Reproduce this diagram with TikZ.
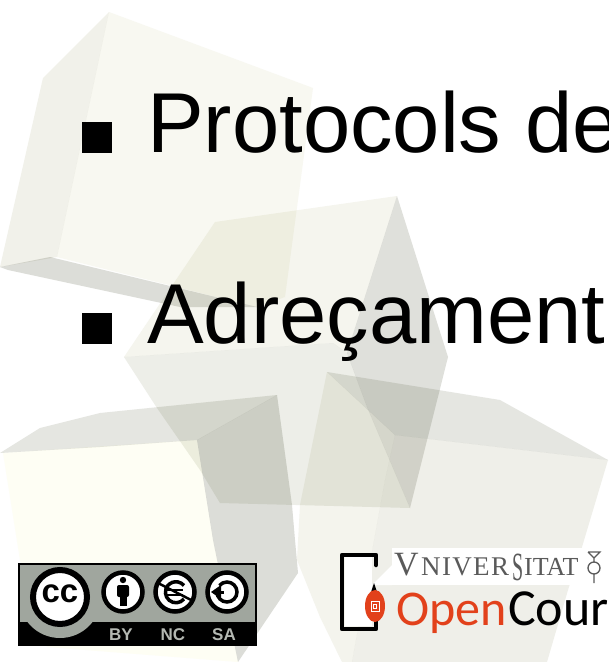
\documentclass[tikz,border=0pt]{standalone}
\usepackage{fontspec}
\setmainfont{Liberation Sans}
\newfontfamily\carl{Carlito}
\newfontfamily\tms{Liberation Serif}
\newfontfamily\tmsw[LetterSpace=5]{Liberation Serif}
\definecolor{cfacea}{HTML}{F8F8F1}
\definecolor{cfaceb}{HTML}{F1F1EA}
\definecolor{cshade}{HTML}{DCDDD8}
\definecolor{cfacec}{HTML}{F5F5EE}
\definecolor{cfaced}{HTML}{EDEEE8}
\definecolor{cfacee}{HTML}{DFE0DB}
\definecolor{cband}{HTML}{E5E6E1}
\definecolor{ccream}{HTML}{FEFEF4}
\definecolor{cfacef}{HTML}{F4F4ED}
\definecolor{cfaceg}{HTML}{EFEFE9}
\definecolor{ccgray}{HTML}{A0A69E}
\definecolor{cctext}{HTML}{B4B8B2}
\definecolor{ocred}{HTML}{E2411B}
\definecolor{unigray}{HTML}{5A5A5A}
\tikzset{
  facet/.style={fill=#1,draw=none,blend mode=multiply},
  headline/.style={anchor=base west,inner sep=0pt,font=\fontsize{85}{85}\selectfont,text=black},
  bulletmark/.style={fill=black,draw=none},
  ringicon/.style={draw=black,line width=4.5pt,fill=white},
  cclabel/.style={anchor=base,inner sep=0pt,font=\fontsize{17}{17}\selectfont\bfseries,text=cctext},
  octext/.style={anchor=base west,inner sep=0pt},
  unibig/.style={anchor=base west,inner sep=0pt,font=\tms\fontsize{34}{34}\selectfont,text=unigray},
  unismall/.style={anchor=base west,inner sep=0pt,font=\tmsw\fontsize{27}{27}\selectfont,text=unigray},
  unitall/.style={anchor=base west,inner sep=0pt,font=\tms\fontsize{40}{40}\selectfont,text=unigray,xscale=.5},
}
\begin{document}
\begin{tikzpicture}[x=1pt,y=-1pt]
\useasboundingbox (0,0) rectangle (609,662);
\clip (0,0) rectangle (609,662);
\fill[white] (0,0) rectangle (609,662);
% cube 1
\fill[facet=cfacea] (109,12)--(313,88)--(285,297)--(257,307)--(57,257)--cycle;
\fill[facet=cfaceb] (109,12)--(43,78)--(0,267)--(57,257)--cycle;
\fill[facet=cshade] (0,267)--(50,257)--(257,307)--(180,307)--(8,270)--cycle;
% cube 3
\fill[facet=ccream] (3,453)--(197,440)--(213,540)--(238,662)--(47,647)--(20,560)--cycle;
\fill[facet=cband] (0,453)--(40,428)--(100,413)--(277,395)--(197,440)--(100,447)--cycle;
\fill[facet=cshade] (277,395)--(197,440)--(213,540)--(238,662)--(298,573)--(295,540)--(292,505)--cycle;
% cube 4
\fill[facet=cfacef] (327,372)--(300,505)--(297,560)--(320,617)--(342,662)--(352,662)--(385,480)--(395,435)--cycle;
\fill[facet=cband] (327,372)--(500,400)--(608,460)--(395,435)--cycle;
\fill[facet=cfaceg] (395,435)--(608,460)--(582,547)--(568,590)--(547,662)--(352,662)--(385,480)--cycle;
% cube 2
\fill[facet=cfacec] (215,222)--(397,196)--(347,353)--(333,343)--(124,357)--cycle;
\fill[facet=cfaced] (124,357)--(333,343)--(347,353)--(367,407)--(410,508)--(220,503)--(200,470)--(157,408)--cycle;
\fill[facet=cfacee] (397,196)--(448,357)--(410,508)--(367,407)--(347,353)--cycle;
% headlines
\fill[bulletmark] (82,122) rectangle (112,153);
\fill[bulletmark] (82,313) rectangle (112,344);
\node[headline] (lineone) at (147,152) {Protocols de};
\node[headline] (linetwo) at (147,343) {Adreçament};
% cc badge
\fill[black] (18,563) rectangle (257,646);
\begin{scope}
\clip (20,565) rectangle (255,646);
\fill[ccgray] (20,565) rectangle (255,622);
\fill[ccgray] (60,597) circle (41);
\end{scope}
\draw[ringicon,line width=6pt] (60,597) circle (27);
\node[anchor=center,inner sep=0pt,font=\fontsize{33}{33}\selectfont\bfseries] (cclogo) at (60,594) {cc};
\draw[ringicon] (123,592) circle (19.5);
\draw[ringicon] (175,592) circle (19.5);
\draw[ringicon] (227,592) circle (19.5);
% by figure
\fill[black] (123,580) circle (3.2);
\fill[black,rounded corners=2pt] (117,585) rectangle (129,597);
\fill[black] (119.5,595) rectangle (126.5,606);
% nc mark
\draw[black,line width=3.5pt] (184,599) arc (40:320:10.5);
\draw[black,line width=2.5pt] (166,590)--(183,590) (166,595)--(183,595);
\draw[black,line width=2.5pt] (158,583)--(193,601);
% sa mark
\draw[black,line width=3.5pt] (217,592) arc (180:-140:10);
\draw[black,line width=3pt] (214,592)--(224,592);
\fill[black] (211,592)--(221,585)--(221,599)--cycle;
\node[cclabel] (byl) at (121,640) {BY};
\node[cclabel] (ncl) at (173,640) {NC};
\node[cclabel] (sal) at (224,640) {SA};
% ocw logo
\fill[white] (392,548) rectangle (609,585);
\fill[white] (345,557) rectangle (372,626);
\fill[white] (372,585)--(392,565)--(392,585)--cycle;
\draw[black,line width=4.5pt,line cap=round,line join=round] (376,565)--(376,555)--(342,555)--(342,629)--(376,629)--(376,620);
\fill[black] (371,592)--(374,583)--(377,592)--cycle;
\fill[ocred] (375,606) ellipse (10 and 16);
\draw[white,line width=1pt] (371,601) rectangle (379,611);
\draw[white,line width=1pt] (373.5,604) rectangle (376.5,608);
\node[unibig] (vv) at (394,575) {V};
\node[unismall] (vnive) at (421,575) {NIVER};
\node[unitall] (vs) at (512,580) {S};
\node[inner sep=0pt,anchor=base west,font=\tms\fontsize{26}{26}\selectfont,text=unigray] (vitat) at (524,575) {ITAT};
\draw[unigray,line width=1.3pt] (594,568) circle (6);
\draw[unigray,line width=1.1pt] (594,574)--(594,583) (594,562)--(594,558) (588,552)--(594,558)--(600,552)--(588,552);
\node[octext,font=\carl\fontsize{50}{50}\selectfont,text=ocred] (ocopen) at (396,625) {Open};
\node[octext,font=\carl\fontsize{52}{52}\selectfont,text=black] (occour) at (508,625) {Cour};
\end{tikzpicture}
\end{document}
